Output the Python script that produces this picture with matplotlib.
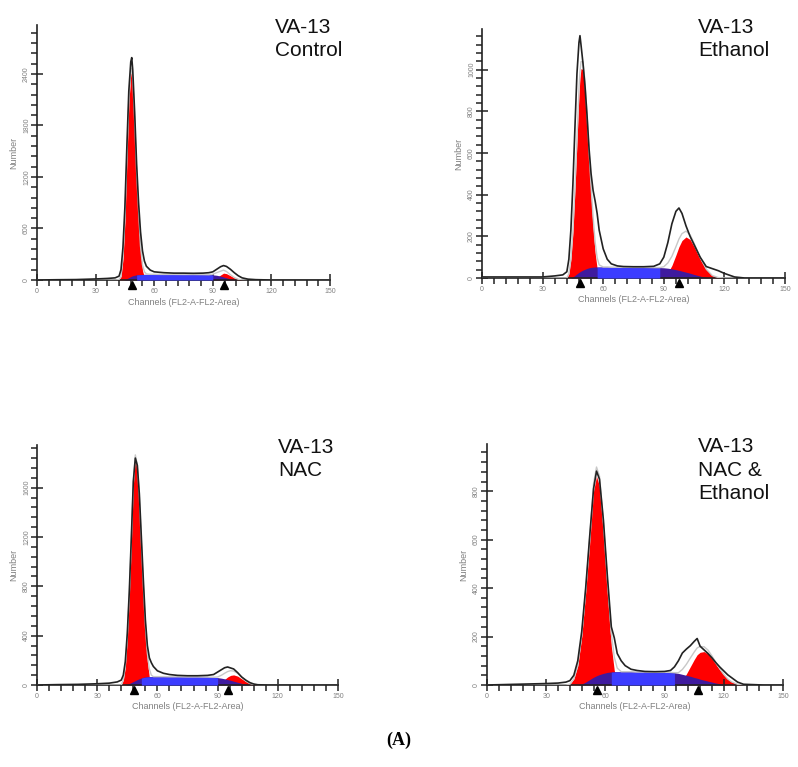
import matplotlib
matplotlib.use("Agg")
import matplotlib.pyplot as plt
import matplotlib.transforms as mtransforms
import numpy as np
from matplotlib.ticker import MultipleLocator

plt.rcParams['font.family'] = ['Liberation Sans', 'DejaVu Sans']

# ---- VA-13 Control ----
ctrl_ch = [0, 10, 20, 30, 36, 40, 42, 43, 44, 45, 46, 47, 48, 48.5, 49, 50, 51, 52, 53, 54,
           55, 56, 58, 60, 65, 70, 75, 80, 85, 88, 90, 92, 94, 95.5, 97, 99, 101, 103, 105, 108,
           112, 120, 150]
ctrl_data = [0, 3, 5, 12, 18, 25, 45, 120, 380, 850, 1550, 2200, 2540, 2590, 2450, 1950, 1350, 900, 560, 340,
             220, 160, 115, 95, 85, 80, 80, 78, 80, 85, 95, 125, 155, 168, 158, 125, 85, 50, 25, 10,
             4, 0, 0]
ctrl_g1 = [0, 0, 0, 0, 0, 0, 5, 40, 250, 700, 1400, 2050, 2400, 2420, 2300, 1800, 1200, 750, 330, 110,
           30, 5] + [0] * 21
ctrl_s = [0] * 9 + [3, 15, 28, 40, 45, 50, 55, 60, 62, 64, 65, 66, 66, 66, 66, 65, 65, 64, 64, 63,
                    62, 60, 55, 45, 35, 25, 12, 4] + [0] * 6
ctrl_g2 = [0] * 30 + [8, 30, 58, 80, 74, 50, 25, 9, 2] + [0] * 4
ctrl_band = (51, 91)
ctrl_peaks = [48.6, 95.7]

# ---- VA-13 Ethanol ----
eth_ch = [0, 10, 20, 30, 36, 40, 42, 43, 44, 45, 46, 47, 48, 48.5, 49, 50, 51, 52, 53, 54,
          55, 56, 57, 58, 60, 62, 64, 67, 70, 75, 80, 85, 88, 90, 92, 94, 96, 97.5, 99, 101,
          103, 105, 108, 111, 114, 117, 120, 125, 130, 150]
eth_data = [5, 5, 5, 5, 10, 15, 30, 90, 230, 450, 720, 980, 1130, 1163, 1120, 1030, 920, 780, 620, 500,
            420, 370, 310, 230, 140, 90, 68, 58, 55, 54, 54, 56, 68, 100, 170, 260, 320, 336, 310, 250,
            200, 160, 100, 55, 45, 35, 22, 5, 0, 0]
eth_g1 = [0] * 7 + [20, 90, 220, 420, 650, 880, 960, 1005, 1000, 900, 740, 560, 390,
                    240, 120, 45, 10] + [0] * 26
eth_s = [0] * 9 + [5, 12, 20, 27, 30, 33, 38, 42, 46, 49, 51, 52, 53, 53, 53, 53, 53, 52, 52, 52,
                   51, 51, 50, 50, 49, 47, 44, 40, 37, 33, 28, 23, 17, 9, 3] + [0] * 6
eth_g2 = [0] * 33 + [5, 25, 60, 110, 150, 180, 197, 185, 150, 90, 40, 12, 2] + [0] * 4
eth_band = (57, 89)
eth_peaks = [48.5, 97.5]

# ---- VA-13 NAC ----
nac_ch = [0, 10, 20, 30, 36, 40, 42, 43, 44, 45, 46, 47, 48, 49, 50, 51, 52, 53, 54, 55,
          56, 57, 58, 60, 63, 66, 70, 75, 80, 85, 88, 90, 92, 93.5, 95, 96.5, 98, 100, 102, 104,
          106, 108, 110, 115, 120, 150]
nac_data = [0, 3, 5, 10, 15, 25, 40, 80, 190, 420, 760, 1190, 1650, 1840, 1780, 1550, 1200, 850, 530, 320,
            220, 180, 150, 115, 95, 85, 78, 75, 75, 78, 85, 105, 125, 140, 146, 138, 130, 100, 65, 40,
            20, 8, 2, 0, 0, 0]
nac_g1 = [0] * 7 + [40, 150, 380, 720, 1150, 1620, 1830, 1740, 1480, 1100, 740, 420, 190,
                    60, 12] + [0] * 24
nac_s = [0] * 9 + [5, 12, 20, 28, 36, 44, 51, 57, 62, 65, 67, 68, 68, 68, 68, 68, 67, 67, 66, 66,
                   65, 63, 60, 55, 50, 44, 38, 31, 22, 13, 6, 1] + [0] * 5
nac_g2 = [0] * 31 + [5, 25, 45, 65, 78, 82, 72, 50, 28, 12, 4] + [0] * 4
nac_band = (52, 90)
nac_peaks = [48.5, 95.3]

# ---- VA-13 NAC & Ethanol ----
mix_ch = [0, 10, 20, 30, 36, 40, 42, 44, 46, 48, 50, 52, 54, 55.5, 57, 59, 61, 63, 64.5, 66,
          68, 70, 73, 76, 80, 85, 90, 93, 95, 97, 99, 101, 103, 105, 106.5, 108, 110, 112, 114, 116,
          118, 120, 122, 124, 127, 130, 140, 150]
mix_data = [0, 2, 4, 6, 8, 12, 18, 40, 100, 220, 400, 610, 810, 883, 850, 680, 450, 240, 195, 130,
            100, 80, 65, 60, 56, 55, 56, 60, 75, 100, 132, 148, 162, 180, 192, 160, 145, 130, 112, 92,
            74, 58, 42, 30, 12, 3, 0, 0]
mix_g1 = [0] * 6 + [3, 25, 80, 200, 380, 580, 800, 862, 820, 620, 380, 160, 60, 15, 0] + [0] * 27
mix_s = [0] * 8 + [0, 4, 12, 22, 32, 38, 43, 48, 52, 54, 55, 55, 55, 55, 55, 54, 54, 53, 53, 52,
                   51, 48, 44, 40, 36, 31, 28, 24, 20, 16, 12, 8, 5, 2] + [0] * 6
mix_g2 = [0] * 29 + [3, 20, 45, 75, 105, 125, 135, 138, 128, 108, 85, 62, 42, 25, 13, 3] + [0] * 3
mix_band = (63, 95)
mix_peaks = [55.6, 106.7]

RED = '#ff0000'
PURPLE = '#3f1a9e'
BLUE = '#3c3cff'
GRAY = '#808080'

W, H = 798, 767
fig = plt.figure(figsize=(W / 100, H / 100), dpi=100)


def px_axes(left, top, right, bottom):
    return fig.add_axes([left / W, 1 - bottom / H, (right - left) / W, (bottom - top) / H])


def panel(ax, ch, data, g1, s, g2, band, peaks, ytop, ymaj, ymin, ylab_x):
    ch = np.array(ch, float)
    data = np.array(data, float)
    g1 = np.array(g1, float)
    s = np.array(s, float)
    g2 = np.array(g2, float)

    ax.fill_between(ch, 0, g1, color=RED, lw=0, zorder=1)
    ax.fill_between(ch, 0, g2, color=RED, lw=0, zorder=1)
    ax.fill_between(ch, 0, s, color=PURPLE, lw=0, zorder=2)
    inside = (ch >= band[0]) & (ch <= band[1])
    ax.fill_between(ch, 0, s * 0.98, where=inside, color=BLUE, lw=0, zorder=3)
    ax.plot(ch, g1 + s + g2, color='#c8c8c8', lw=1.0, zorder=4)
    ax.plot(ch, data, color='#222222', lw=1.2, zorder=5)

    # G1 / G2 markers sit just under the channel axis
    below = mtransforms.offset_copy(ax.get_xaxis_transform(), fig=fig, y=-4.5, units='dots')
    ax.plot(peaks, [0, 0], marker='^', ls='none', color='black', ms=6,
            transform=below, clip_on=False, zorder=6)

    ax.set_xlim(0, 150)
    ax.set_ylim(0, ytop)
    for side in ('top', 'right'):
        ax.spines[side].set_visible(False)
    for side in ('left', 'bottom'):
        ax.spines[side].set_linewidth(1.2)
        ax.spines[side].set_color('#222222')
    ax.xaxis.set_major_locator(MultipleLocator(30))
    ax.xaxis.set_minor_locator(MultipleLocator(6))
    ax.yaxis.set_major_locator(MultipleLocator(ymaj))
    ax.yaxis.set_minor_locator(MultipleLocator(ymin))
    ax.tick_params(which='major', direction='inout', length=8, width=1.1,
                   color='#222222', labelsize=5, labelcolor=GRAY, pad=2)
    ax.tick_params(which='minor', direction='out', length=4, width=1.1, color='#222222')
    ax.tick_params(axis='y', which='major', labelrotation=90, pad=1)
    for lab in ax.get_yticklabels():
        lab.set_va('center')
    ax.set_xlabel('Channels (FL2-A-FL2-Area)', fontsize=6.5, color=GRAY)
    ax.xaxis.set_label_coords(0.5, -0.07)
    ax.set_ylabel('Number', fontsize=6.5, color=GRAY)
    ax.yaxis.set_label_coords(ylab_x, 0.5)


ax1 = px_axes(37, 25, 330, 280)
panel(ax1, ctrl_ch, ctrl_data, ctrl_g1, ctrl_s, ctrl_g2, ctrl_band, ctrl_peaks,
      2970, 600, 120, -0.065)
ax2 = px_axes(482, 29, 785, 278)
panel(ax2, eth_ch, eth_data, eth_g1, eth_s, eth_g2, eth_band, eth_peaks,
      1195, 200, 40, -0.063)
ax3 = px_axes(37, 445, 338, 685)
panel(ax3, nac_ch, nac_data, nac_g1, nac_s, nac_g2, nac_band, nac_peaks,
      1946, 400, 80, -0.063)
ax4 = px_axes(487, 444, 783, 685)
panel(ax4, mix_ch, mix_data, mix_g1, mix_s, mix_g2, mix_band, mix_peaks,
      995, 200, 40, -0.065)

labels = [("VA-13\nControl", 275, 18), ("VA-13\nEthanol", 698, 18),
          ("VA-13\nNAC", 278, 438), ("VA-13\nNAC &\nEthanol", 698, 437)]
for txt, x, y in labels:
    fig.text(x / W, 1 - y / H, txt, ha='left', va='top', fontsize=15,
             color='#111111', linespacing=1.3)

fig.text(399 / W, 1 - 740 / H, '(A)', ha='center', va='center', fontsize=13,
         fontweight='bold', family='Liberation Serif')

fig.savefig('out.png', dpi=100)
